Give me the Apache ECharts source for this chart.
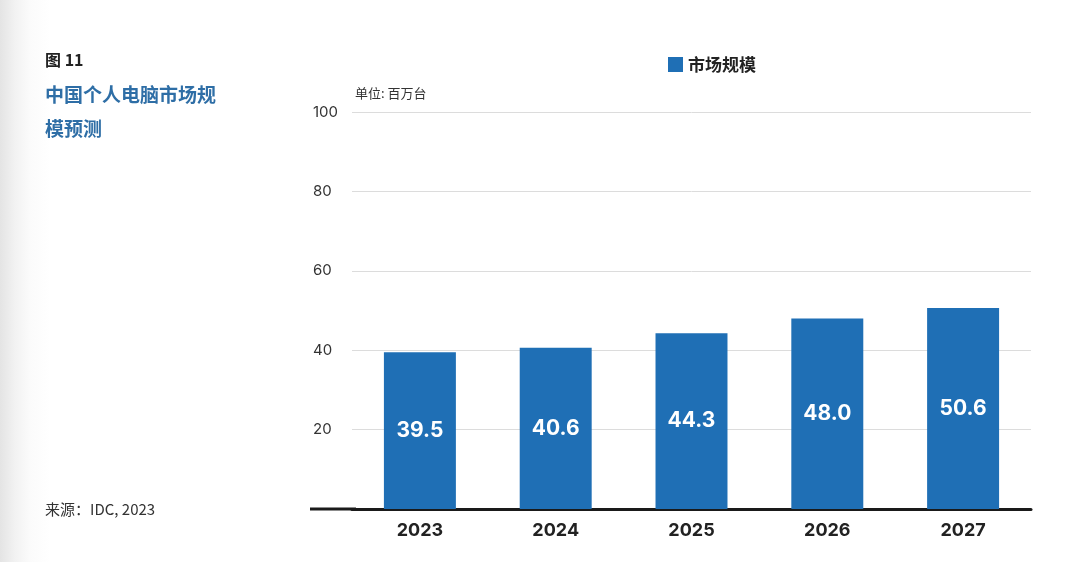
<!DOCTYPE html>
<html><head><meta charset="utf-8">
<script src="https://cdn.jsdelivr.net/npm/echarts@6/dist/echarts.min.js"></script>
<style>
html,body{margin:0;padding:0;width:1076px;height:562px;overflow:hidden;
background:linear-gradient(to right,#e4e4e4 0px,#f2f2f2 15px,#fbfbfb 30px,#ffffff 50px);}
#c{width:1076px;height:562px;}
</style></head>
<body><div id="c"></div>
<script>
const categories = ['2023','2024','2025','2026','2027'];
const marketSize = [39.5, 40.6, 44.3, 48.0, 50.6];
const yTicks = [0, 20, 40, 60, 80, 100];
const seriesName = '市场规模';

const chart = echarts.init(document.getElementById('c'), null, {renderer:'canvas'});
const cjk = '"Noto Sans CJK SC","Noto Sans",sans-serif';
chart.setOption({
  backgroundColor: 'transparent',
  textStyle: {fontFamily: cjk},
  legend: {
    data: [seriesName], left: 663, top: 51, itemWidth: 15, itemHeight: 15, itemGap: 6,
    icon: 'rect',
    textStyle: {fontSize: 17, fontWeight: 'bold', color: '#222', fontFamily: cjk}
  },
  graphic: [
    {type:'text', left: 45, top: 52, style:{text:'图 11', fontSize:16, fontWeight:'bold', fill:'#222', fontFamily:cjk}},
    {type:'text', left: 45, top: 85, style:{text:'中国个人电脑市场规', fontSize:19, fontWeight:'bold', fill:'#2e6ea6', fontFamily:cjk}},
    {type:'text', left: 45, top: 119, style:{text:'模预测', fontSize:19, fontWeight:'bold', fill:'#2e6ea6', fontFamily:cjk}},
    {type:'text', left: 45, top: 502, style:{text:'来源：IDC, 2023', fontSize:15, fill:'#333', fontFamily:cjk}},
    {type:'text', left: 355, top: 87, style:{text:'单位: 百万台', fontSize:13, fill:'#333', fontFamily:cjk}},
    {type:'line', shape:{x1:310, y1:509, x2:356, y2:509}, style:{stroke:'#1a1a1a', lineWidth:3}}
  ],
  grid: {left: 352, right: 45, top: 112, bottom: 53},
  xAxis: {
    type: 'category', data: categories,
    axisLine: {show: true, lineStyle: {color: '#1a1a1a', width: 3}},
    axisTick: {show: false},
    axisLabel: {fontSize: 18, fontWeight: 'bold', color: '#222', margin: 13, fontFamily: 'Inter, "Noto Sans", sans-serif'}
  },
  yAxis: {
    type: 'value', min: yTicks[0], max: yTicks[yTicks.length-1], interval: 20,
    axisLine: {show: false}, axisTick: {show: false},
    splitLine: {lineStyle: {color: '#dcdcdc', width: 1}},
    axisLabel: {
      fontSize: 15, color: '#333', align: 'left', margin: 39, verticalAlign: 'middle', padding: [3,0,0,0],
      fontFamily: 'Inter, "Noto Sans", sans-serif',
      formatter: v => v === 0 ? '' : String(v)
    }
  },
  series: [{
    name: seriesName, type: 'bar', data: marketSize, barWidth: '53%',
    itemStyle: {color: '#1f6fb5'},
    label: {
      show: true, position: 'inside', color: '#fff', fontSize: 21, fontWeight: 'bold',
      fontFamily: 'Inter, "Noto Sans", sans-serif', padding: [4,0,0,0],
      formatter: p => p.value.toFixed(1)
    }
  }]
});
</script></body></html>
